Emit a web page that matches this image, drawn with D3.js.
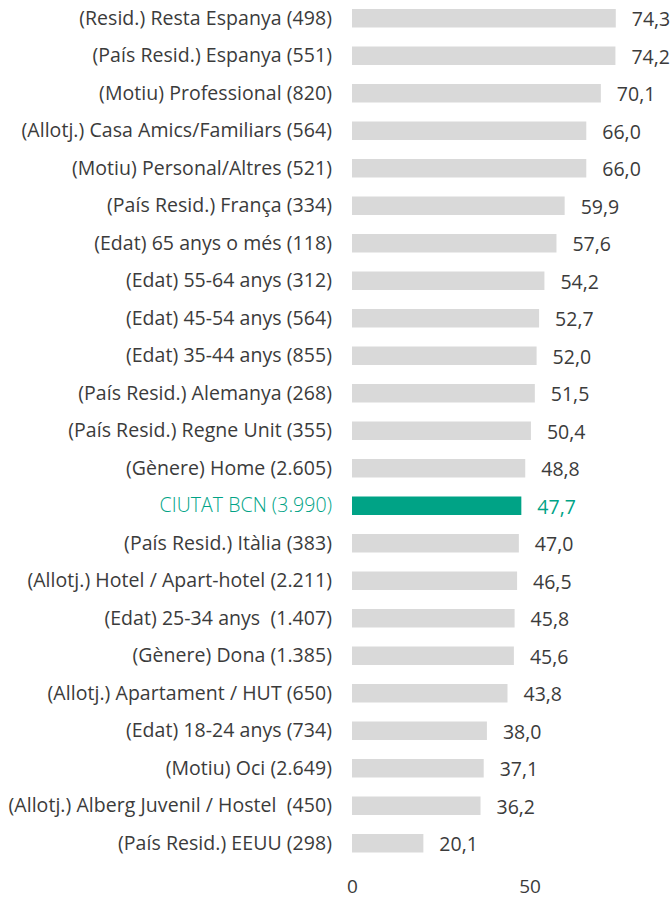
<!DOCTYPE html>
<html>
<head>
<meta charset="utf-8">
<script src="https://d3js.org/d3.v7.min.js"></script>
<style>
  body { margin: 0; background: #fff; }
  text { font-family: "Open Sans", sans-serif; white-space: pre; }
</style>
</head>
<body>
<div id="chart"></div>
<script>
  var categories = [
    "(Resid.) Resta Espanya (498)",
    "(País Resid.) Espanya (551)",
    "(Motiu) Professional (820)",
    "(Allotj.) Casa Amics/Familiars (564)",
    "(Motiu) Personal/Altres (521)",
    "(País Resid.) França (334)",
    "(Edat) 65 anys o més (118)",
    "(Edat) 55-64 anys (312)",
    "(Edat) 45-54 anys (564)",
    "(Edat) 35-44 anys (855)",
    "(País Resid.) Alemanya (268)",
    "(País Resid.) Regne Unit (355)",
    "(Gènere) Home (2.605)",
    "CIUTAT BCN (3.990)",
    "(País Resid.) Itàlia (383)",
    "(Allotj.) Hotel / Apart-hotel (2.211)",
    "(Edat) 25-34 anys  (1.407)",
    "(Gènere) Dona (1.385)",
    "(Allotj.) Apartament / HUT (650)",
    "(Edat) 18-24 anys (734)",
    "(Motiu) Oci (2.649)",
    "(Allotj.) Alberg Juvenil / Hostel  (450)",
    "(País Resid.) EEUU (298)"
  ];
  var values = [74.3, 74.2, 70.1, 66.0, 66.0, 59.9, 57.6, 54.2, 52.7, 52.0, 51.5, 50.4, 48.8,
    47.7, 47.0, 46.5, 45.8, 45.6, 43.8, 38.0, 37.1, 36.2, 20.1];
  var highlight = "CIUTAT BCN (3.990)";
  var tickValues = [0, 50];

  var data = categories.map(function (c, i) { return { name: c, value: values[i] }; });

  var W = 672, H = 900;
  var svg = d3.select("#chart").append("svg")
    .attr("width", W).attr("height", H);

  var x = d3.scaleLinear().domain([0, 50]).range([352, 529.5]);
  var y = d3.scaleBand().domain(categories).range([-0.75, 861.75]).paddingInner(0.49).paddingOuter(0.245);

  var fmt = function (v) { return d3.format(".1f")(v).replace(".", ","); };
  var green = "#00a386";
  var grey = "#3b3b3b";

  svg.selectAll(".bar").data(data).enter().append("rect")
    .attr("class", "bar")
    .attr("x", x(0))
    .attr("y", function (d) { return y(d.name) + y.bandwidth() / 2 - 9; })
    .attr("width", function (d) { return x(d.value) - x(0); })
    .attr("height", 18.5)
    .attr("fill", function (d) { return d.name == highlight ? green : "#d9d9d9"; });

  svg.selectAll(".lbl").data(data).enter().append("text")
    .attr("class", "lbl")
    .attr("x", 332)
    .attr("y", function (d) { return y(d.name) + y.bandwidth() / 2; })
    .attr("dy", "0.35em")
    .attr("text-anchor", "end")
    .style("font-size", "19.5px")
    .style("letter-spacing", "0.05px")
    .style("font-weight", function (d) { return d.name == highlight ? 300 : 400; })
    .attr("fill", function (d) { return d.name == highlight ? green : grey; })
    .text(function (d) { return d.name; });

  svg.selectAll(".val").data(data).enter().append("text")
    .attr("class", "val")
    .attr("x", function (d) { return x(d.value) + 16; })
    .attr("y", function (d) { return y(d.name) + y.bandwidth() / 2 + 1.5; })
    .attr("dy", "0.35em")
    .style("font-size", "19.5px")
    .attr("fill", function (d) { return d.name == highlight ? green : grey; })
    .text(function (d) { return fmt(d.value); });

  var axis = d3.axisBottom(x).tickValues(tickValues).tickSize(0).tickPadding(0)
    .tickFormat(function (d) { return d; });
  var g = svg.append("g").attr("transform", "translate(0,886)").call(axis);
  g.select(".domain").remove();
  g.selectAll("text")
    .attr("y", 0)
    .attr("dy", "0.35em")
    .style("font-size", "19px")
    .style("font-family", "'Open Sans', sans-serif")
    .attr("fill", grey);
</script>
</body>
</html>
